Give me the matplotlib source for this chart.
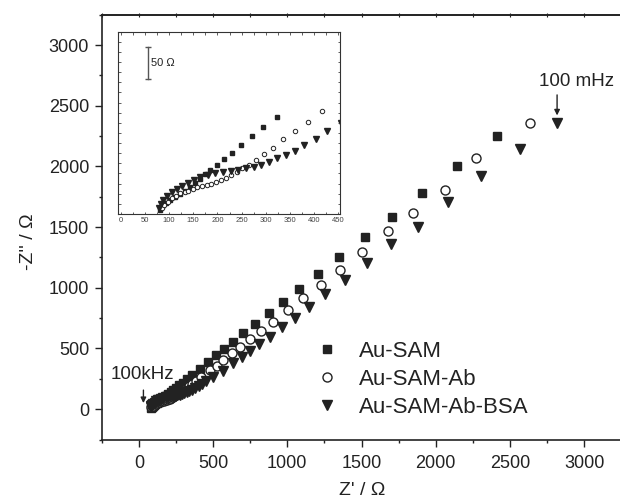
import numpy as np
import matplotlib.pyplot as plt
from matplotlib.ticker import MultipleLocator, NullFormatter

plt.rcParams['font.family'] = ['Liberation Sans', 'DejaVu Sans']

# ---------------- data ----------------
# main Nyquist plot, Z' / -Z'' in ohm
sam_x = [85, 90, 95, 102, 112, 123, 133, 143, 154, 164, 174, 185, 199, 214, 231, 249, 272, 295, 323, 360,
         410, 469, 519, 576, 633, 704, 783, 877, 970, 1079, 1204, 1349, 1524, 1708, 1906, 2141, 2411]
sam_y = [10, 18, 27, 35, 43, 51, 59, 69, 78, 90, 101, 112, 123, 139, 155, 174, 197, 219, 246, 283,
         334, 390, 445, 495, 555, 624, 698, 789, 880, 989, 1110, 1255, 1415, 1585, 1778, 2006, 2248]

ab_x = [85, 90, 97, 106, 114, 123, 132, 140, 149, 158, 168, 178, 187, 197, 207, 217, 228, 240, 251, 265,
        280, 297, 315, 336, 361, 388, 417, 480, 525, 570, 626, 682, 749, 824, 906, 1003, 1109, 1225,
        1355, 1502, 1677, 1849, 2063, 2269, 2635]
ab_y = [14, 22, 30, 40, 46, 53, 56, 59, 64, 67, 70, 74, 77, 82, 86, 91, 99, 107, 115, 125,
        138, 152, 168, 189, 210, 234, 261, 322, 357, 404, 459, 514, 575, 643, 720, 816, 913, 1022,
        1150, 1297, 1470, 1618, 1805, 2067, 2360]

bsa_x = [79, 83, 88, 96, 106, 116, 126, 139, 152, 164, 180, 196, 212, 228, 243, 259, 275, 290, 307, 323,
         341, 360, 380, 403, 427, 455, 500, 565, 637, 694, 749, 812, 884, 963, 1053, 1149,
         1255, 1389, 1539, 1699, 1879, 2081, 2305, 2568, 2819]
bsa_y = [16, 26, 35, 45, 54, 64, 72, 78, 86, 94, 99, 104, 107, 109, 112, 115, 118, 123, 131, 141,
         149, 160, 174, 190, 210, 230, 265, 318, 377, 426, 480, 533, 596, 673, 748, 843,
         948, 1063, 1201, 1358, 1503, 1709, 1921, 2141, 2360]

# inset (high frequency part), ohm
in_sam_x = [81, 86, 93, 102, 112, 123, 133, 143, 154, 164, 174, 185, 199, 214, 231, 249, 272, 295, 323]
in_sam_y = [6, 12, 17, 22, 27, 32, 37, 43, 49, 56, 63, 70, 77, 87, 97, 109, 123, 137, 154]
in_ab_x = [85, 90, 97, 106, 114, 123, 132, 140, 149, 158, 168, 178, 187, 197, 207, 217, 228, 240, 251,
           265, 280, 297, 315, 336, 361, 388, 417]
in_ab_y = [9, 14, 19, 25, 29, 33, 35, 37, 40, 42, 44, 46, 48, 51, 54, 57, 62, 67, 72,
           78, 86, 95, 105, 118, 131, 146, 163]
in_bsa_x = [79, 83, 88, 96, 106, 116, 126, 139, 152, 164, 180, 196, 212, 228, 243, 259, 275, 290, 307,
            323, 341, 360, 380, 403, 427, 455]
in_bsa_y = [10, 16, 22, 28, 34, 40, 45, 49, 54, 59, 62, 65, 67, 68, 70, 72, 74, 77, 82,
            88, 93, 100, 109, 119, 131, 144]

labels = ['Au-SAM', 'Au-SAM-Ab', 'Au-SAM-Ab-BSA']
ink = '#222222'

W, H = 620, 503
fig = plt.figure(figsize=(W / 100, H / 100), dpi=100)

# main axes (right part runs off the picture, as in the original)
ax = fig.add_axes([101.7 / W, (H - 439.5) / H, (628.8 - 101.7) / W, (439.5 - 14.7) / H])
ax.plot(sam_x, sam_y, ls='none', marker='s', ms=6, mfc=ink, mec=ink, label=labels[0])
ax.plot(ab_x, ab_y, ls='none', marker='o', ms=6.5, mfc='white', mec=ink, mew=1.0, label=labels[1])
ax.plot(bsa_x, bsa_y, ls='none', marker='v', ms=7.5, mfc=ink, mec=ink, label=labels[2])

ax.set_xlim(-250, 3300)
ax.set_ylim(-250, 3250)
ax.xaxis.set_major_locator(MultipleLocator(500))
ax.xaxis.set_minor_locator(MultipleLocator(250))
ax.yaxis.set_major_locator(MultipleLocator(500))
ax.yaxis.set_minor_locator(MultipleLocator(250))
ax.tick_params(which='major', direction='out', length=5, width=1, labelsize=13, pad=4,
               colors=ink, top=False, right=False)
ax.tick_params(axis='x', which='major', pad=6)
ax.tick_params(which='minor', direction='out', length=2.5, width=1, colors=ink, top=False, right=False)
ax.spines['right'].set_visible(False)
for s in ['left', 'bottom', 'top']:
    ax.spines[s].set_linewidth(1.2)
    ax.spines[s].set_color(ink)

# top axis: unlabeled short ticks
top = ax.secondary_xaxis('top')
top.xaxis.set_major_locator(MultipleLocator(250))
top.xaxis.set_major_formatter(NullFormatter())
top.tick_params(direction='inout', length=3, width=0.8, colors=ink)
top.spines['top'].set_linewidth(1.2)
top.spines['top'].set_color(ink)

ax.set_xlabel("Z' / \u03a9", fontsize=14, color=ink)
ax.xaxis.set_label_coords(0.494, (439.5 - 482) / 424.8)
ax.set_ylabel("-Z'' / \u03a9", fontsize=14, color=ink)
ax.yaxis.set_label_coords((37 - 101.7) / 527.1, 0.465)

leg = ax.legend(loc='upper left', bbox_to_anchor=(316 / W, 1 - 341 / H), bbox_transform=fig.transFigure,
                frameon=False, fontsize=16, handlelength=1.0, handletextpad=0.95, labelspacing=0.32,
                borderpad=0, borderaxespad=0, numpoints=1)
for t in leg.get_texts():
    t.set_color(ink)

# frequency markers
arrow = dict(arrowstyle='-|>', color=ink, lw=1, mutation_scale=8, shrinkA=0, shrinkB=0)
ax.annotate('', xy=(2817, 2420), xytext=(2817, 2589), arrowprops=arrow)
ax.text(2951, 2696, '100 mHz', ha='center', va='center', fontsize=13.5, color=ink)
ax.annotate('', xy=(31, 50), xytext=(31, 157), arrowprops=arrow)
ax.text(26, 289, '100kHz', ha='center', va='center', fontsize=13.5, color=ink)

# ---------------- inset ----------------
axin = fig.add_axes([118.3 / W, (H - 214) / H, 221.7 / W, 182.3 / H])
axin.plot(in_sam_x, in_sam_y, ls='none', marker='s', ms=3, mfc=ink, mec=ink)
axin.plot(in_ab_x, in_ab_y, ls='none', marker='o', ms=3.2, mfc='white', mec=ink, mew=0.7)
axin.plot(in_bsa_x, in_bsa_y, ls='none', marker='v', ms=3.8, mfc=ink, mec=ink)
axin.set_xlim(-5, 453.5)
axin.set_ylim(0, 288)
axin.xaxis.set_major_locator(MultipleLocator(50))
axin.xaxis.set_minor_locator(MultipleLocator(25))
axin.yaxis.set_major_locator(MultipleLocator(16))
axin.yaxis.set_major_formatter(NullFormatter())
axin.tick_params(which='both', direction='in', length=1.8, width=0.6, labelsize=5.5, pad=2,
                 top=True, right=True, colors='#444444')
for s in axin.spines.values():
    s.set_linewidth(0.8)
    s.set_color('#333333')

# 50 ohm scale bar
axin.plot([57, 57], [214, 264], color='#555555', lw=1)
axin.plot([57, 57], [214, 264], ls='none', marker='_', ms=5, mew=1, color='#555555')
axin.text(62, 239, '50 \u03a9', ha='left', va='center', fontsize=8, color=ink)

fig.savefig('out.png', dpi=100)
